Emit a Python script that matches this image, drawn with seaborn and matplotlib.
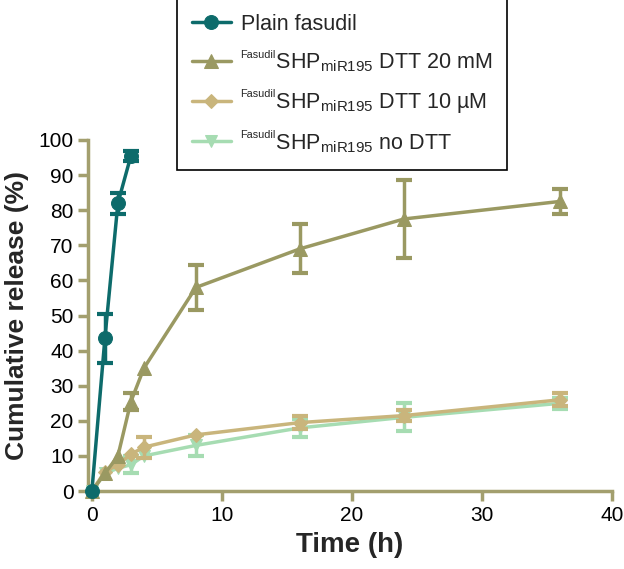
import matplotlib
matplotlib.use("Agg")
import matplotlib.pyplot as plt
import seaborn as sns
import pandas as pd
import numpy as np

# data
t_plain = [0, 1, 2, 3]
plain = [0, 43.5, 82, 95.5]
plain_err = [0, 7, 3, 1.5]

t_slow = [0, 1, 2, 3, 4, 8, 16, 24, 36]
dtt20 = [0, 5, 10, 25.5, 35, 58, 69, 77.5, 82.5]
dtt20_err = [0, 0, 0, 2.5, 0, 6.5, 7, 11, 3.5]
dtt10 = [0, 5.5, 7.5, 10.5, 12.5, 16, 19.5, 21.5, 26]
dtt10_err = [0, 0, 0, 0, 3, 0, 1.8, 1.5, 1.8]
nodtt = [0, 5, 6.5, 7.5, 10, 13, 18, 21, 25]
nodtt_err = [0, 0, 0, 2.5, 0, 3, 2.5, 4, 1.5]

# the small "Fasudil" prefix is drawn separately, a gap is left for it
gap = r"$\hspace{1.66}$SHP$_{\mathregular{miR195}}$"
labels = [
    "Plain fasudil",
    gap + " DTT 20 mM",
    gap + " DTT 10 µM",
    gap + " no DTT",
]
colors = ["#0d6b6b", "#9a9962", "#c9b57c", "#a6dcb2"]
markers = ["o", "^", "D", "v"]
msizes = [10, 10, 7, 9]

sns.set_style("ticks")
plt.rcParams["font.family"] = ["Liberation Sans", "DejaVu Sans"]
plt.rcParams["mathtext.fontset"] = "custom"
plt.rcParams["mathtext.rm"] = "Liberation Sans"

fig = plt.figure(figsize=(6.24, 5.69), dpi=100)
ax = fig.add_axes([0.141, 0.137, 0.840, 0.617])

series = [
    (t_plain, plain, plain_err),
    (t_slow, dtt20, dtt20_err),
    (t_slow, dtt10, dtt10_err),
    (t_slow, nodtt, nodtt_err),
]

# draw back to front so plain fasudil sits on top
for i in [3, 2, 1, 0]:
    t, y, e = (np.asarray(a, dtype=float) for a in series[i])
    df = pd.DataFrame({"t": t, "y": y})
    m = e > 0
    ax.errorbar(t[m], y[m], yerr=e[m], fmt="none", ecolor=colors[i], elinewidth=2.5,
                capsize=6, capthick=3, zorder=2 + (3 - i), clip_on=False)
    sns.lineplot(data=df, x="t", y="y", ax=ax, color=colors[i], marker=markers[i],
                 markersize=msizes[i], markeredgecolor=colors[i], linewidth=2.5,
                 label=labels[i], zorder=3 + (3 - i), clip_on=False)

axis_col = "#a39f6e"
ax.set_xlim(-0.3, 40)
ax.set_ylim(0, 100)
ax.set_xticks([0, 10, 20, 30, 40])
ax.set_yticks(range(0, 101, 10))
for s in ["left", "bottom"]:
    ax.spines[s].set_color(axis_col)
    ax.spines[s].set_linewidth(2.5)
sns.despine(ax=ax)
ax.tick_params(axis="both", colors=axis_col, width=2.5, length=7,
               labelsize=15, labelcolor="black")

ax.set_xlabel("Time (h)", fontsize=20, fontweight="bold", labelpad=5)
ax.set_ylabel("Cumulative release (%)", fontsize=19, fontweight="bold", labelpad=7)

handles, labs = ax.get_legend_handles_labels()
order = [labs.index(l) for l in labels]
leg = ax.legend([handles[k] for k in order], [labs[k] for k in order],
                loc="upper left", bbox_to_anchor=(0.2837, 1.002),
                bbox_transform=fig.transFigure, borderaxespad=0, fontsize=15.5,
                frameon=True, fancybox=False, edgecolor="black", framealpha=1,
                handlelength=1.8, handletextpad=0.45, labelspacing=0.78, borderpad=0.7)
leg.get_frame().set_linewidth(1.2)

# superscript "Fasudil" in front of SHP
for txt in leg.get_texts()[1:]:
    ax.annotate("Fasudil", xy=(0, 1), xycoords=txt, xytext=(0, 1.2),
                textcoords="offset points", ha="left", va="top", fontsize=7.8,
                zorder=10, annotation_clip=False, clip_on=False)

fig.savefig("out.png", dpi=100)
